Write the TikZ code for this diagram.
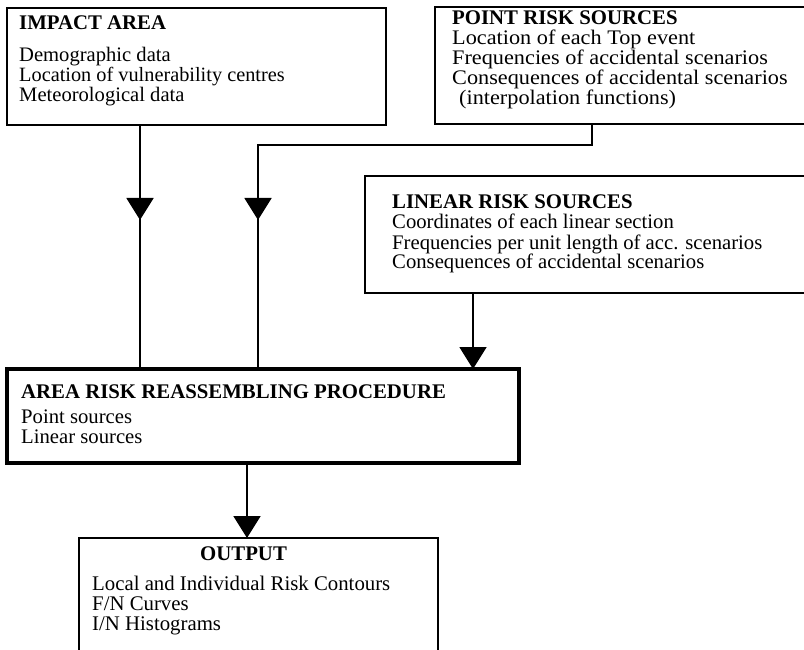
\documentclass[tikz,border=0pt]{standalone}
\usepackage{fontspec}
\setmainfont{Liberation Serif}
\newfontfamily\widefont[FakeStretch=1.075]{Liberation Serif}
\usetikzlibrary{arrows.meta,decorations.markings}
\begin{document}
\begin{tikzpicture}[x=1pt,y=-1pt,
  box/.style={draw,line width=1.8pt,inner sep=0pt,outer sep=0pt,anchor=north west},
  ttl/.style={anchor=base west,inner sep=0pt,font=\fontsize{20.8}{20}\selectfont\bfseries},
  txt/.style={anchor=base west,inner sep=0pt,font=\fontsize{#1}{20}\selectfont},
  txt/.default=20.7,
  widetxt/.style={anchor=base west,inner sep=0pt,font=\widefont\fontsize{20.7}{20}\selectfont},
  conn/.style={line width=1.8pt},
  tipshape/.style={-{Triangle[width=27pt,length=22pt]}},
  midtip/.style={postaction={decorate},decoration={markings,
     mark=at position #1 with {\arrow{Triangle[width=27pt,length=22pt]}}}}
]
\useasboundingbox (0,0) rectangle (804,650);
\clip (0,0) rectangle (804,650);
\fill[white] (0,0) rectangle (804,650);

% boxes
\node[box,minimum width=379pt,minimum height=117pt] (impact) at (7,8) {};
\node[box,minimum width=385pt,minimum height=117pt] (point) at (435,7) {};
\node[box,minimum width=455pt,minimum height=117pt] (linear) at (365,176) {};
\node[box,line width=4pt,minimum width=512pt,minimum height=94pt] (area) at (7,369) {};
\node[box,minimum width=359pt,minimum height=140pt] (output) at (79,538) {};

% texts
\node[ttl] (t1) at (19,30) {IMPACT AREA};
\node[txt=20.6] (t1a) at (19,62) {Demographic data};
\node[txt=20.3] (t1b) at (19,82) {Location of vulnerability centres};
\node[txt=20.6] (t1c) at (19,102) {Meteorological data};

\node[ttl] (t2) at (452,25) {POINT RISK SOURCES};
\node[widetxt] (t2a) at (452,45) {Location of each Top event};
\node[widetxt] (t2b) at (452,65) {Frequencies of accidental scenarios};
\node[widetxt] (t2c) at (452,85) {Consequences of accidental scenarios};
\node[widetxt] (t2d) at (459,105) {(interpolation functions)};

\node[ttl] (t3) at (392,209) {LINEAR RISK SOURCES};
\node[txt] (t3a) at (392,229) {Coordinates of each linear section};
\node[txt] (t3b) at (392,249) {Frequencies per unit length of acc. scenarios};
\node[txt] (t3c) at (392,269) {Consequences of accidental scenarios};

\node[ttl] (t4) at (21,398) {AREA RISK REASSEMBLING PROCEDURE};
\node[txt] (t4a) at (21,423) {Point sources};
\node[txt] (t4b) at (21,443) {Linear sources};

\node[ttl] (t5) at (200,560) {OUTPUT};
\node[txt=20.8] (t5a) at (92,590) {Local and Individual Risk Contours};
\node[txt=20.8] (t5b) at (92,610) {F/N Curves};
\node[txt=20.8] (t5c) at (92,630) {I/N Histograms};

% connector helpers
\coordinate (x1) at (140,0);
\coordinate (x2) at (258,0);
\coordinate (x3) at (592,0);
\coordinate (y2) at (0,145);
\coordinate (x4) at (473,0);
\coordinate (x5) at (247,0);

\draw[conn,midtip=95pt] (impact.south -| x1) -- (area.north -| x1);
\draw[conn,midtip=430pt] (point.south -| x3) |- (y2 -| x2) -- (area.north -| x2);
\draw[conn,tipshape] (linear.south -| x4) -- (area.north -| x4);
\draw[conn,tipshape] (area.south -| x5) -- (output.north -| x5);
\end{tikzpicture}
\end{document}
